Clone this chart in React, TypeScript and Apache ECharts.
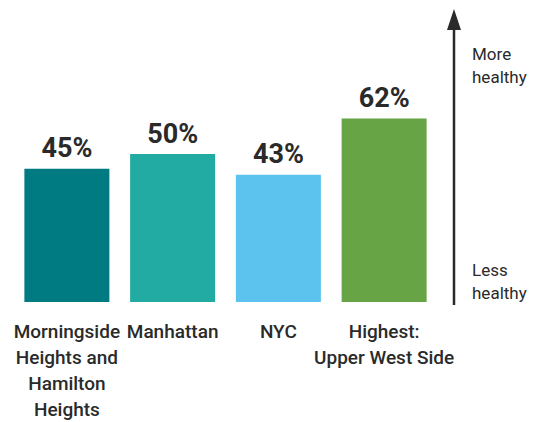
import React, { useEffect, useRef } from "react";
import * as echarts from "echarts";

const categories = [
  "Morningside\nHeights and\nHamilton\nHeights",
  "Manhattan",
  "NYC",
  "Highest:\nUpper West Side",
];
const values = [45, 50, 43, 62];
const barColors = ["#007B82", "#22ABA3", "#5BC3EE", "#67A445"];
const arrowTopLabel = "More\nhealthy";
const arrowBottomLabel = "Less\nhealthy";

export default function App() {
  const ref = useRef<HTMLDivElement>(null);
  useEffect(() => {
    if (!ref.current) return;
    const chart = echarts.init(ref.current, undefined, { renderer: "svg" });
    chart.setOption({
      animation: false,
      backgroundColor: "#ffffff",
      grid: { left: 14, right: 98, top: 6, bottom: 120, containLabel: false },
      xAxis: {
        type: "category",
        data: categories,
        axisLine: { show: false },
        axisTick: { show: false },
        axisLabel: {
          interval: 0,
          margin: 16,
          fontFamily: "Roboto",
          fontWeight: 500,
          fontSize: 19,
          lineHeight: 26,
          color: "#2a2a2a",
          align: "center",
          verticalAlign: "top",
        },
      },
      yAxis: {
        type: "value",
        min: 0,
        max: 100,
        show: false,
      },
      series: [
        {
          type: "bar",
          barWidth: 85,
          data: values.map((v, i) => ({ value: v, itemStyle: { color: barColors[i] } })),
          label: {
            show: true,
            position: "top",
            distance: 7,
            formatter: "{c}%",
            fontFamily: "Roboto",
            fontWeight: "bold",
            fontSize: 27,
            color: "#2a2a2a",
          },
        },
      ],
      graphic: [
        {
          type: "line",
          shape: { x1: 454, y1: 26, x2: 454, y2: 305 },
          style: { stroke: "#2a2a2a", lineWidth: 2.5 },
        },
        {
          type: "polygon",
          shape: { points: [[454, 9], [447, 30], [461, 30]] },
          style: { fill: "#2a2a2a" },
        },
        {
          type: "text",
          x: 472,
          y: 42,
          style: {
            text: arrowTopLabel,
            fontFamily: "Roboto",
            fontSize: 17,
            lineHeight: 23,
            fill: "#2a2a2a",
          },
        },
        {
          type: "text",
          x: 472,
          y: 258,
          style: {
            text: arrowBottomLabel,
            fontFamily: "Roboto",
            fontSize: 17,
            lineHeight: 23,
            fill: "#2a2a2a",
          },
        },
      ],
    });
    return () => chart.dispose();
  }, []);
  return (
    <div
      ref={ref}
      style={{ position: "absolute", left: 0, top: 0, width: 535, height: 422 }}
    />
  );
}
